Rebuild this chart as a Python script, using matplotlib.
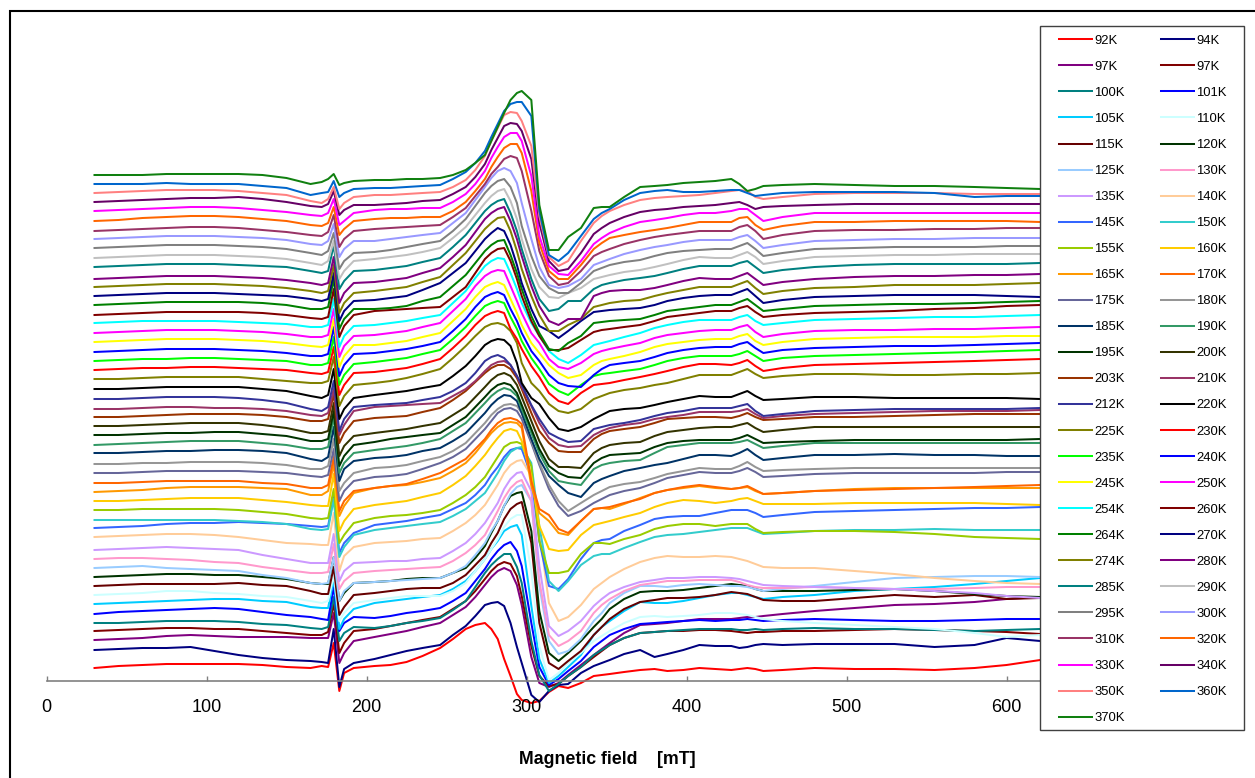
import matplotlib
matplotlib.use("Agg")
import matplotlib.pyplot as plt
from matplotlib.lines import Line2D
from matplotlib.patches import Rectangle

plt.rcParams["font.family"] = ["Liberation Sans", "DejaVu Sans"]

# magnetic field grid in mT, intensities are offset stacked (arbitrary units)
field = [30, 45, 60, 75, 90, 105, 120, 135, 150, 165, 172, 176, 179.5, 183, 186, 192, 205,
         215, 225, 235, 246, 254, 262, 268, 274, 278, 282, 286, 290, 294, 297,
         303, 308, 314, 320, 326, 334, 342, 347, 352, 361, 371,
         380, 388, 398, 408, 418, 428, 433, 438, 443, 448, 460, 480, 505, 530, 555, 580, 600, 621]

s092 = [13,15,16,17,17,17,17,16,14,13,15,14,38,-10,8,13,15, 16,19,25,33,42,52,56,58,52,42,22,5,-13,-19, -22,-20,-11,-5,-7,-2,5,6,7,9,11, 12,10,11,13,12,11,12,13,12,10,11,13,12,12,11,13,16,21]
s094 = [31,32,33,33,34,30,26,23,21,20,19,18,52,-6,12,18,22, 26,30,33,36,46,55,65,76,78,79,75,58,34,18, -14,-21,-10,-4,-3,8,15,18,21,27,31, 24,27,31,36,35,35,33,34,36,37,36,37,37,37,34,36,43,40]
s097a = [41,42,43,45,46,45,44,44,44,43,43,43,68,18,28,40,44, 47,50,54,58,66,74,84,96,104,110,113,110,96,76, 24,-2,-6,-2,6,16,26,32,38,48,56, 57,58,60,62,62,62,63,64,64,65,67,70,73,76,77,79,82,84]
s097b = [50,51,52,53,53,52,52,50,48,46,46,49,78,28,38,50,52, 55,58,61,64,72,80,90,102,110,116,119,117,105,85, 35,5,-5,-3,5,14,24,30,36,43,48, 49,50,50,51,51,50,49,48,49,49,50,50,51,52,51,50,49,47]
s100 = [58,58,59,60,60,60,59,57,56,53,52,54,84,40,48,54,53, 55,58,60,63,71,80,94,108,116,122,127,127,114,98, 40,6,-10,-3,5,14,26,31,36,43,48, 49,50,51,52,52,52,51,51,52,51,52,53,52,52,51,50,51,52]
s101 = [67,69,70,71,72,73,72,69,66,64,62,61,94,50,58,64,63, 65,68,70,73,80,88,100,112,122,130,136,139,130,115, 58,14,-4,2,10,20,34,40,46,52,57, 58,59,60,61,60,61,61,62,61,60,61,62,61,60,60,61,62,62]
s105 = [77,78,79,80,81,82,82,80,79,74,73,73,102,52,62,72,78, 80,82,84,86,92,100,110,122,132,140,150,154,156,146, 75,22,-2,5,14,26,46,54,60,70,79, 78,78,80,83,86,88,88,86,84,82,84,86,90,92,94,97,100,103]
s110 = [86,87,88,90,90,88,87,85,84,80,78,80,106,60,68,78,81, 83,85,85,85,90,98,110,122,132,142,154,162,166,166, 110,35,1,8,18,28,40,45,50,58,64, 65,64,65,66,68,68,67,66,64,62,60,58,56,54,52,48,44,46]
s115 = [95,96,97,97,97,97,98,96,95,90,87,87,114,66,74,86,88, 90,92,93,93,98,106,116,126,138,148,162,172,177,179, 138,58,18,12,20,30,46,54,62,72,79, 81,83,83,84,86,89,88,87,84,81,80,80,83,86,84,86,82,83]
s120 = [104,105,106,107,107,106,106,104,102,98,97,97,124,80,88,98,99, 100,102,103,103,108,113,123,135,148,160,175,185,188,189, 150,70,28,20,28,40,54,62,72,82,89, 90,90,91,93,95,97,96,95,92,90,90,90,91,92,90,87,85,84]
s125 = [113,114,115,113,112,111,110,106,103,98,97,98,124,80,90,98,99, 100,101,102,103,108,115,126,138,150,160,175,187,194,196, 180,95,40,27,30,42,60,68,78,88,95, 95,94,96,97,96,95,95,94,92,90,92,95,99,103,104,105,105,104]
s130 = [122,123,123,122,121,119,118,114,111,108,108,109,137,92,100,108,110, 111,112,113,114,120,128,136,146,158,170,183,193,199,201, 180,100,46,35,40,50,68,76,82,90,96, 98,100,100,101,101,101,99,96,94,93,93,94,93,92,92,93,94,94]
s135 = [131,132,133,134,133,132,131,126,122,118,118,118,147,100,110,118,119, 120,120,122,123,130,138,147,158,168,178,192,202,208,209, 190,115,55,45,50,60,75,82,88,94,99, 101,103,103,104,104,103,102,100,98,96,95,94,93,92,90,88,85,83]
s140 = [144,145,146,147,147,146,144,141,138,137,136,136,168,110,125,134,138, 139,140,142,143,150,158,166,176,186,196,208,216,220,221, 205,150,78,60,64,76,92,98,104,112,119, 123,125,124,124,125,124,122,120,117,114,113,113,110,107,103,100,98,97]
s145 = [153,154,155,157,158,158,159,158,157,155,154,155,184,128,138,148,156, 158,160,163,166,172,178,186,196,206,214,224,231,233,232, 205,140,95,92,102,122,138,141,142,150,156, 162,164,165,165,168,171,171,171,168,164,166,169,170,171,172,173,173,174]
s150 = [161,161,161,161,161,161,160,159,157,152,151,152,182,124,134,146,151, 153,155,157,159,165,172,180,188,198,208,220,229,233,234, 218,155,100,90,100,116,125,127,127,133,139, 144,146,147,149,151,153,153,153,150,147,148,150,151,151,152,151,151,151]
s155 = [171,171,172,172,172,172,171,169,167,163,162,163,192,138,146,158,163, 165,166,168,171,178,186,194,204,214,224,234,238,239,237, 215,140,108,108,110,127,138,138,137,142,146, 152,155,157,157,155,157,157,157,152,148,149,150,150,149,147,144,143,142]
s160 = [180,180,181,182,183,183,183,181,179,176,175,175,207,150,160,172,176, 178,180,184,188,196,205,215,226,235,243,250,252,250,240, 205,155,132,130,131,146,156,158,160,164,168, 174,178,181,180,178,180,182,183,180,177,177,177,178,178,178,178,177,176]
s165 = [189,190,191,193,194,194,194,193,192,186,186,190,217,165,175,188,193, 195,196,199,203,210,218,228,240,248,254,258,259,258,253, 195,168,160,148,146,160,172,173,172,177,183, 188,191,193,195,193,192,193,194,190,187,188,190,192,193,193,193,193,193]
s170 = [198,198,199,200,200,200,200,198,197,193,193,196,224,170,180,190,193, 195,197,202,208,215,222,232,242,251,258,262,263,261,257, 200,172,166,152,148,160,172,173,174,178,182, 188,191,194,196,194,192,193,195,191,187,188,190,191,192,193,194,195,196]
s175 = [208,208,209,210,210,210,210,209,208,205,204,206,232,180,190,200,204, 205,207,212,218,224,232,242,252,260,268,272,273,270,262, 238,216,192,175,165,170,178,182,186,190,193, 198,203,206,209,208,208,210,213,209,204,205,207,208,208,208,208,209,209]
s180 = [217,217,218,218,219,219,219,218,216,212,212,215,242,190,198,208,213, 214,216,220,224,230,238,248,258,266,272,276,277,275,268, 240,218,196,180,170,178,186,190,194,197,199, 203,207,210,213,212,212,215,219,214,210,211,212,213,213,213,213,213,213]
s185 = [228,228,229,230,230,231,231,230,228,222,220,224,254,200,212,220,223, 224,226,230,233,240,248,258,268,276,282,286,285,280,268, 242,222,205,196,188,184,198,202,205,210,213, 216,218,222,226,226,225,228,232,226,221,223,226,226,227,226,226,225,225]
s190 = [236,237,238,239,240,240,240,238,236,232,232,234,264,208,218,228,231, 233,235,238,242,250,258,268,278,285,290,293,291,285,272, 248,228,210,200,198,196,212,216,218,220,221, 228,234,236,238,238,238,239,241,237,233,235,238,238,238,238,238,238,238]
s195 = [246,246,247,248,248,249,249,247,245,240,240,242,270,215,225,236,239, 242,244,246,248,256,264,274,284,291,296,298,296,288,276, 252,232,215,208,204,203,218,223,226,227,228, 234,238,240,241,241,241,243,246,242,238,239,240,241,241,241,241,241,242]
s200 = [255,255,256,257,258,258,258,256,253,248,248,250,278,225,235,245,248, 250,252,255,258,266,274,284,294,301,306,308,305,296,284, 260,240,222,214,214,213,228,233,236,238,239, 245,249,251,253,254,254,256,258,253,249,251,254,254,254,254,254,254,254]
s203 = [264,264,265,266,267,267,267,266,264,260,260,262,287,238,248,260,263, 264,265,269,273,281,290,299,308,313,316,316,312,303,292, 268,250,238,230,229,229,242,247,250,252,254, 258,262,263,264,264,263,265,268,264,261,262,264,264,265,266,267,267,267]
s210 = [272,272,273,274,274,273,273,272,270,266,265,268,292,246,256,270,274, 275,276,277,278,285,292,300,310,316,319,320,316,305,294, 275,258,243,236,234,235,246,250,253,256,258, 262,264,266,269,269,269,270,272,267,263,265,267,268,269,270,270,270,271]
s212 = [282,282,283,284,284,284,283,281,278,272,270,274,300,250,262,274,276, 277,278,281,284,290,298,308,320,324,326,323,316,305,296, 276,262,248,243,239,240,252,254,256,258,261, 265,268,270,273,273,273,275,277,270,265,267,270,271,272,272,272,272,273]
s220 = [292,292,293,294,294,294,294,292,290,285,283,286,312,262,272,283,286, 288,290,293,296,305,315,325,336,340,342,341,335,318,298, 283,277,263,252,250,254,262,266,270,272,273, 276,279,282,285,284,284,287,290,285,281,282,284,284,283,283,283,283,282]
s225 = [302,302,303,304,304,304,304,302,300,298,298,300,324,275,285,296,298, 300,303,307,312,323,335,345,354,357,358,356,350,338,318, 298,290,277,270,268,272,282,285,288,291,293, 296,298,302,306,306,306,309,312,307,303,305,307,307,306,306,307,307,308]
s230 = [311,312,313,313,314,314,313,312,311,308,307,309,334,286,296,308,309, 311,313,317,322,333,345,356,365,368,370,368,352,342,332, 315,304,288,280,277,288,296,297,298,301,304, 307,310,314,317,317,316,318,321,315,310,313,316,317,318,319,320,321,322]
s235 = [320,321,322,322,323,323,322,321,320,316,316,318,344,296,306,317,319, 321,323,327,331,342,354,365,375,378,380,378,364,352,340, 323,312,297,290,286,296,305,307,308,310,312, 316,320,323,325,325,325,327,330,325,320,323,325,326,327,328,329,330,331]
s240 = [329,330,331,332,332,332,331,330,328,325,325,327,354,305,316,327,328, 330,332,335,339,350,362,374,384,387,389,386,372,360,348, 330,320,306,298,295,294,306,312,316,318,320, 324,328,331,333,334,334,337,339,333,328,331,333,334,335,335,336,337,338]
s245 = [339,340,341,342,342,342,341,340,338,335,334,336,362,314,325,336,336, 338,340,344,348,360,372,384,394,397,399,396,382,368,356, 338,328,316,308,303,306,316,320,322,325,329, 334,337,339,341,342,342,345,347,340,336,339,342,343,344,344,344,345,345]
s250 = [348,349,350,351,351,351,350,349,347,344,344,346,372,324,335,345,346, 348,350,354,358,370,382,395,405,409,411,410,395,380,368, 348,338,322,314,312,318,327,330,332,335,338, 343,346,348,350,351,351,354,356,349,344,347,350,351,351,352,352,353,354]
s254 = [358,359,360,360,360,360,359,358,357,354,354,356,382,334,345,355,356, 358,360,363,366,378,390,403,415,420,423,422,408,392,378, 358,345,330,322,318,326,336,338,340,344,348, 353,356,359,361,361,361,364,366,360,356,358,361,362,363,364,364,365,366]
s260 = [366,367,368,369,369,369,369,368,366,363,362,364,392,344,355,366,370, 371,372,373,374,384,394,408,422,428,432,433,420,402,385, 360,345,331,331,333,341,349,351,352,354,356, 360,364,366,368,370,370,373,375,369,364,366,368,369,370,372,373,375,376]
s264 = [376,377,378,379,379,379,379,378,376,372,372,374,402,352,362,372,372, 373,375,380,384,395,406,418,430,436,440,441,426,408,392, 365,348,332,330,338,345,358,359,360,361,362, 366,370,372,374,376,376,379,382,376,370,372,375,376,377,377,378,379,380]
s270 = [385,386,387,388,388,388,387,386,385,382,380,382,408,360,370,380,381, 383,385,391,398,408,418,430,442,448,453,450,436,416,398, 372,355,350,343,350,360,369,370,371,372,373, 376,380,383,385,386,386,389,392,385,378,381,384,385,386,386,386,385,384]
s274 = [394,395,396,397,397,397,396,395,393,390,388,390,416,368,378,388,390, 392,394,399,404,416,428,440,452,458,463,464,450,430,412, 385,366,350,350,356,362,374,376,378,380,381, 385,388,391,394,394,394,397,400,393,387,390,393,394,396,396,396,397,398]
s280 = [402,403,404,405,405,405,404,403,401,398,396,398,424,378,388,398,399, 401,403,408,413,424,436,449,462,468,472,474,460,442,425, 395,375,360,356,362,362,385,388,390,391,391, 393,396,400,403,402,402,405,408,402,396,399,402,404,405,405,406,406,407]
s285 = [414,415,416,417,417,417,416,415,414,410,408,410,436,392,400,410,411, 413,415,419,423,434,446,458,470,476,480,482,468,450,432, 402,382,370,372,380,380,392,396,398,401,403, 405,408,412,415,415,415,418,420,414,408,411,414,416,417,417,417,417,418]
s290 = [423,424,425,426,426,426,425,424,422,418,416,420,440,402,410,420,422, 424,426,429,433,443,454,466,478,485,490,492,480,462,442, 412,394,384,383,388,393,402,404,406,409,411, 414,417,421,424,423,423,426,429,424,417,420,424,425,426,426,427,427,427]
s295 = [433,434,435,436,436,436,435,434,432,428,426,430,448,412,420,428,429, 431,434,437,440,450,462,475,488,495,500,502,494,478,455, 425,405,393,388,388,398,410,413,416,419,421, 425,428,430,431,432,432,435,438,432,425,428,432,433,434,434,434,435,435]
s300 = [442,443,444,445,445,445,444,443,441,437,436,440,457,424,432,440,440, 442,444,446,448,458,468,481,494,503,510,513,510,498,478, 442,414,396,393,395,402,416,419,422,427,431, 434,436,439,441,441,441,444,446,440,433,436,440,441,442,442,443,443,443]
s310 = [450,451,452,453,454,454,453,451,449,446,445,449,466,434,442,450,452, 453,454,455,456,464,473,485,497,507,514,522,525,523,510, 470,430,405,396,398,410,425,429,432,437,441, 444,446,448,450,450,450,454,456,450,442,446,450,451,451,452,452,453,453]
s320 = [460,461,463,464,465,465,464,462,460,456,455,458,474,446,452,460,462, 463,463,464,464,470,479,490,502,514,524,533,537,537,528, 490,438,410,402,402,416,432,438,443,446,449, 451,453,456,459,459,459,463,464,456,451,455,459,459,460,460,460,460,459]
s330 = [470,471,472,473,474,474,473,471,469,466,465,468,482,456,460,468,471, 472,472,473,473,479,487,497,510,523,534,544,548,548,540, 505,445,415,407,406,420,437,443,448,454,459, 461,463,466,468,468,470,472,472,466,460,464,468,468,468,468,468,468,468]
s340 = [479,480,481,482,483,483,484,482,479,475,474,477,490,466,471,476,476, 477,478,480,481,487,494,504,517,531,543,555,558,557,550, 522,458,420,410,412,428,447,453,458,464,469, 471,472,474,475,476,478,479,476,472,474,475,476,477,477,477,477,477,477]
s350 = [488,489,490,491,491,491,490,488,486,480,478,482,494,472,478,484,486, 486,487,488,489,494,501,511,525,540,553,566,569,568,560, 535,465,424,415,420,440,458,465,470,476,481, 483,484,485,486,488,490,491,490,484,482,484,487,488,488,488,487,487,487]
s360 = [497,497,497,498,497,497,497,495,493,486,488,489,500,484,488,492,493, 493,494,495,496,502,509,518,530,544,557,570,577,579,579, 565,470,426,420,428,445,462,468,472,481,488, 490,491,489,489,490,491,491,488,485,486,488,489,489,489,488,484,485,485]
s370 = [506,506,506,507,507,507,507,506,503,497,499,502,507,496,498,500,501, 501,502,502,503,506,511,518,526,540,554,568,581,588,590, 581,476,431,431,444,453,473,474,474,484,494, 495,496,498,499,500,502,497,490,492,495,496,497,496,495,495,494,493,492]

series = [s092, s094, s097a, s097b, s100, s101, s105, s110, s115, s120, s125, s130, s135, s140,
          s145, s150, s155, s160, s165, s170, s175, s180, s185, s190, s195, s200, s203, s210,
          s212, s220, s225, s230, s235, s240, s245, s250, s254, s260, s264, s270, s274, s280,
          s285, s290, s295, s300, s310, s320, s330, s340, s350, s360, s370]

labels = ["92K", "94K", "97K", "97K", "100K", "101K", "105K", "110K", "115K", "120K", "125K", "130K", "135K", "140K",
          "145K", "150K", "155K", "160K", "165K", "170K", "175K", "180K", "185K", "190K", "195K", "200K", "203K", "210K",
          "212K", "220K", "225K", "230K", "235K", "240K", "245K", "250K", "254K", "260K", "264K", "270K", "274K", "280K",
          "285K", "290K", "295K", "300K", "310K", "320K", "330K", "340K", "350K", "360K", "370K"]

# old excel palette, in series order
colors = ["#FF0000", "#000080", "#800080", "#800000", "#008080", "#0000FF", "#00CCFF", "#CCFFFF", "#660000", "#003300",
          "#99CCFF", "#FF99CC", "#CC99FF", "#FFCC99", "#3366FF", "#33CCCC", "#99CC00", "#FFCC00", "#FF9900", "#FF6600",
          "#666699", "#969696", "#003366", "#339966", "#003300", "#333300", "#993300", "#993366", "#333399", "#000000",
          "#808000", "#FF0000", "#00FF00", "#0000FF", "#FFFF00", "#FF00FF", "#00FFFF", "#800000", "#008000", "#000080",
          "#808000", "#800080", "#008080", "#C0C0C0", "#808080", "#9999FF", "#993366", "#FF6600", "#FF00FF", "#660066",
          "#FF8080", "#0066CC", "#108010"]

W, H = 1255, 778
fig = plt.figure(figsize=(W / 100, H / 100), dpi=100)

# 1 y unit is 1 pixel here, x axis at pixel row 681
ax = fig.add_axes([46.5 / W, (H - 720) / H, (1040 - 46.5) / W, 708 / H])
ax.set_xlim(0, 620.9)
ax.set_ylim(-39, 669)

for vals, lab, col in zip(series, labels, colors):
    ax.plot(field, vals, color=col, lw=1.45, label=lab, solid_joinstyle="round")

for side in ["left", "right", "top"]:
    ax.spines[side].set_visible(False)
ax.spines["bottom"].set_position(("data", 0))
ax.spines["bottom"].set_color("#808080")
ax.spines["bottom"].set_linewidth(1.2)
ax.set_yticks([])
ax.set_xticks([0, 100, 200, 300, 400, 500, 600])
ax.tick_params(axis="x", direction="in", length=3.5, width=1, color="#808080", pad=13, labelsize=13)
ax.set_axisbelow(False)
ax.patch.set_alpha(0)

ax.set_xlabel("Magnetic field    [mT]", fontweight="bold", fontsize=12.8, va="center")
ax.xaxis.set_label_coords((607 - 46.5) / 993.5, -39 / 708)

# outer chart border, only left and top fall inside the image
fig.add_artist(Rectangle((10 / W, -0.2), 1.2, 1.2 - 11 / H, fill=False, ec="black", lw=1.5,
                         transform=fig.transFigure))

# legend box, placed by hand so the rows sit as in the original
fig.add_artist(Rectangle((1039.5 / W, 1 - 730 / H), 204.5 / W, 704 / H, fc="white", ec="#404040", lw=1,
                         transform=fig.transFigure, zorder=5))
for i, (lab, col) in enumerate(zip(labels, colors)):
    row_y = 1 - (39.3 + (i // 2) * 26.05) / H
    x0 = (1059 + (i % 2) * 102) / W
    fig.add_artist(Line2D([x0, x0 + 32.5 / W], [row_y, row_y], color=col, lw=1.45, zorder=6,
                          transform=fig.transFigure))
    fig.text(x0 + 35 / W, row_y, lab, fontsize=9.4, va="center_baseline", ha="left", zorder=6)

fig.savefig("out.png", dpi=100)
